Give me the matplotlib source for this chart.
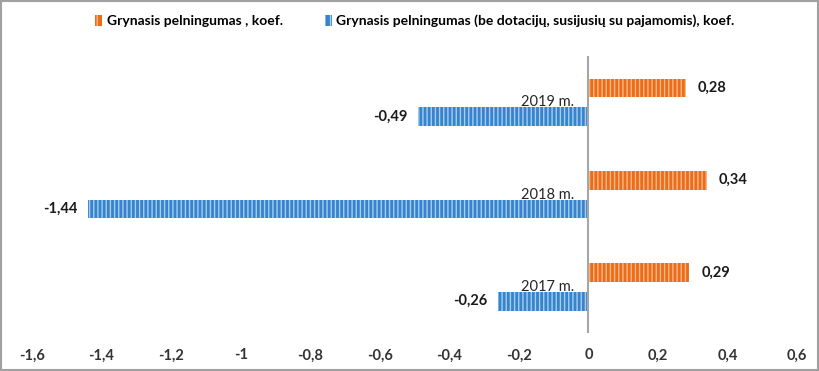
import numpy as np
import matplotlib
matplotlib.use("Agg")
import matplotlib.pyplot as plt
from matplotlib.patches import Rectangle, Patch

plt.rcParams['font.family'] = ['Lato', 'DejaVu Sans']
plt.rcParams['hatch.linewidth'] = 1.0

years = ['2017 m.', '2018 m.', '2019 m.']
net_profit = [0.29, 0.34, 0.28]
net_profit_no_subsidy = [-0.26, -1.44, -0.49]
series_names = ['Grynasis pelningumas , koef.',
                'Grynasis pelningumas (be dotacijų, susijusių su pajamomis), koef.']
xticks = [-1.6, -1.4, -1.2, -1, -0.8, -0.6, -0.4, -0.2, 0, 0.2, 0.4, 0.6]

orange = '#EC6C18'
orange_hatch = '#F8B88A'
blue = '#3683CE'
blue_hatch = '#A8CDEF'

fig = plt.figure(figsize=(8.2, 3.71), dpi=100)
ax = fig.add_axes([0.039, 0.102, 0.933, 0.747])

y = np.arange(len(years))
h = 0.2
off = 0.155

ax.barh(y + off, net_profit, height=h, color=orange, edgecolor=orange_hatch,
        linewidth=0, hatch='||||')
ax.barh(y - off, net_profit_no_subsidy, height=h, color=blue, edgecolor=blue_hatch,
        linewidth=0, hatch='||||')

for yi, v in zip(y, net_profit):
    ax.text(v + 0.035, yi + off, f'{v:.2f}'.replace('.', ','), ha='left', va='center',
            fontsize=10.5, fontweight='bold', color='#1a1a1a')
for yi, v in zip(y, net_profit_no_subsidy):
    ax.text(v - 0.03, yi - off, f'{v:.2f}'.replace('.', ','), ha='right', va='center',
            fontsize=10.5, fontweight='bold', color='#1a1a1a')
for yi, lab in zip(y, years):
    ax.text(-0.04, yi, lab, ha='right', va='center', fontsize=10.5, color='#262626')

ax.axvline(0, color='#A6A6A6', linewidth=1.5)

ax.set_xlim(-1.6, 0.6)
ax.set_ylim(-0.5, 2.5)
ax.set_xticks(xticks)
ax.set_xticklabels([f'{t:g}'.replace('.', ',') for t in xticks],
                   fontsize=10.5, fontweight='bold', color='#333333')
ax.tick_params(axis='x', length=0, pad=11)
ax.set_yticks([])
for s in ax.spines.values():
    s.set_visible(False)

handles = [Patch(facecolor=orange, edgecolor=orange_hatch, linewidth=0, hatch='|||'),
           Patch(facecolor=blue, edgecolor=blue_hatch, linewidth=0, hatch='|||')]
fig.legend(handles, series_names, loc='center', bbox_to_anchor=(0.506, 0.943), ncol=2,
           frameon=False, handlelength=0.5, handleheight=0.75,
           handletextpad=0.35, columnspacing=3.0,
           prop={'weight': 'bold', 'size': 10})

fig.patches.append(Rectangle((0.001, 0.002), 0.997, 0.995, transform=fig.transFigure,
                             fill=False, edgecolor='#A0A0A0', linewidth=1.5))

fig.savefig('out.png', dpi=100)
